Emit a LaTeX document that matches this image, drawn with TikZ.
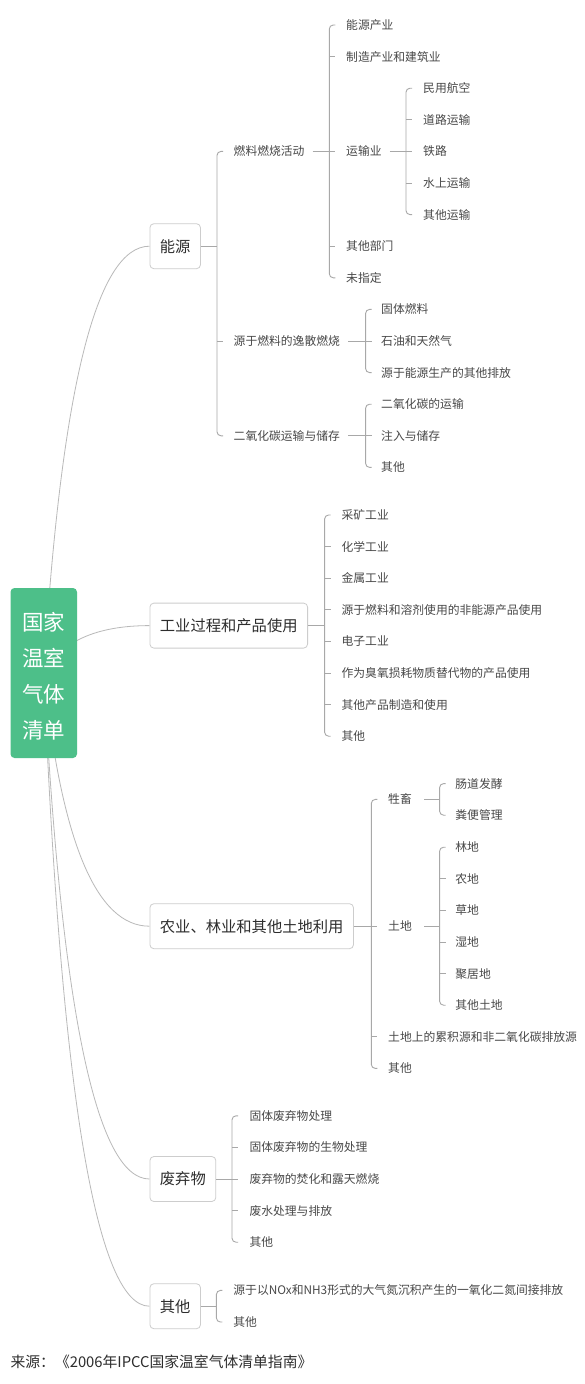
\documentclass[tikz,border=0pt]{standalone}
\usepackage{fontspec}
\setmainfont{Noto Sans CJK SC}
\usetikzlibrary{backgrounds,calc}
\definecolor{rootg}{RGB}{77,191,137}
\definecolor{boxc}{RGB}{205,205,205}
\definecolor{linec}{RGB}{168,168,168}
\definecolor{curvec}{RGB}{185,185,185}
\definecolor{leafc}{RGB}{72,72,72}
\definecolor{mainc}{RGB}{45,45,45}
\tikzset{
  leaf/.style={anchor=west, inner sep=0pt, text height=10.3pt, text depth=1.4pt,
    font=\fontsize{11.8}{14}\selectfont, text=leafc},
  mainbox/.style={draw=boxc, fill=white, rounded corners=4pt, anchor=west,
    inner xsep=10pt, inner ysep=0pt, minimum height=45pt, text height=13.5pt,
    text depth=1.8pt, font=\fontsize{15.3}{18}\selectfont, text=mainc, line width=0.8pt},
  rootbox/.style={fill=rootg, draw=none, rounded corners=4pt, minimum width=66.5pt,
    minimum height=170pt, inner sep=0pt},
  roottext/.style={inner sep=0pt, align=center, text=white,
    font=\fontsize{21.5}{36}\selectfont},
  br/.style={draw=linec, line width=0.9pt, rounded corners=4pt},
  curve/.style={draw=curvec, line width=0.8pt},
}
\begin{document}
\begin{tikzpicture}[x=1pt,y=-1pt]
\useasboundingbox (0,0) rectangle (585,1384);

% root
\node[rootbox] (root) at (43.75,673) {};
\node[roottext, yshift=-3.5pt] (roottxt) at (root.center) {国家\\温室\\气体\\清单};

% ---------- Energy ----------
\node[mainbox] (E) at (149.5,246.2) {能源};
\coordinate (bE) at (217,0);
\node[leaf] (e1) at (233.5,151.4) {燃料燃烧活动};
\node[leaf] (e2) at (233.5,341) {源于燃料的逸散燃烧};
\node[leaf] (e3) at (233.5,435.8) {二氧化碳运输与储存};
\coordinate (b1) at (329.3,0);
\node[leaf] (e11) at (346,25) {能源产业};
\node[leaf] (e12) at (346,56.6) {制造产业和建筑业};
\node[leaf] (e13) at (346,151.4) {运输业};
\node[leaf] (e14) at (346,246.2) {其他部门};
\node[leaf] (e15) at (346,277.8) {未指定};
\coordinate (b13) at (406,0);
\node[leaf] (e131) at (423,88.2) {民用航空};
\node[leaf] (e132) at (423,119.8) {道路运输};
\node[leaf] (e133) at (423,151.4) {铁路};
\node[leaf] (e134) at (423,183) {水上运输};
\node[leaf] (e135) at (423,214.6) {其他运输};
\coordinate (b2) at (365.6,0);
\node[leaf] (e21) at (381,309.4) {固体燃料};
\node[leaf] (e22) at (381,341) {石油和天然气};
\node[leaf] (e23) at (381,372.6) {源于能源生产的其他排放};
\node[leaf] (e31) at (381,404.2) {二氧化碳的运输};
\node[leaf] (e32) at (381,435.8) {注入与储存};
\node[leaf] (e33) at (381,467.4) {其他};

% ---------- Industry ----------
\node[mainbox] (I) at (149.5,625.6) {工业过程和产品使用};
\coordinate (bI) at (324.6,0);
\node[leaf] (i1) at (341.4,515) {采矿工业};
\node[leaf] (i2) at (341.4,546.6) {化学工业};
\node[leaf] (i3) at (341.4,578.2) {金属工业};
\node[leaf] (i4) at (341.4,609.8) {源于燃料和溶剂使用的非能源产品使用};
\node[leaf] (i5) at (341.4,641.4) {电子工业};
\node[leaf] (i6) at (341.4,673) {作为臭氧损耗物质替代物的产品使用};
\node[leaf] (i7) at (341.4,704.6) {其他产品制造和使用};
\node[leaf] (i8) at (341.4,736.2) {其他};

% ---------- Agriculture ----------
\node[mainbox] (A) at (149.5,926.2) {农业、林业和其他土地利用};
\coordinate (bA) at (371.3,0);
\node[leaf] (a1) at (388,799.4) {牲畜};
\node[leaf] (a2) at (388,926.2) {土地};
\node[leaf] (a3) at (388,1036.8) {土地上的累积源和非二氧化碳排放源};
\node[leaf] (a4) at (388,1068.4) {其他};
\coordinate (bA1) at (439.6,0);
\node[leaf] (a11) at (455.2,783.6) {肠道发酵};
\node[leaf] (a12) at (455.2,815.2) {粪便管理};
\node[leaf] (a21) at (455.2,847.2) {林地};
\node[leaf] (a22) at (455.2,878.8) {农地};
\node[leaf] (a23) at (455.2,910.4) {草地};
\node[leaf] (a24) at (455.2,942) {湿地};
\node[leaf] (a25) at (455.2,973.6) {聚居地};
\node[leaf] (a26) at (455.2,1005.2) {其他土地};

% ---------- Waste ----------
\node[mainbox] (W) at (149.5,1179) {废弃物};
\coordinate (bW) at (232,0);
\node[leaf] (w1) at (249.3,1115.8) {固体废弃物处理};
\node[leaf] (w2) at (249.3,1147.4) {固体废弃物的生物处理};
\node[leaf] (w3) at (249.3,1179) {废弃物的焚化和露天燃烧};
\node[leaf] (w4) at (249.3,1210.6) {废水处理与排放};
\node[leaf] (w5) at (249.3,1242.2) {其他};

% ---------- Other ----------
\node[mainbox] (O) at (149.5,1306.2) {其他};
\coordinate (bO) at (216.4,0);
\node[leaf] (o1) at (233.2,1290.4) {源于以NOx和NH3形式的大气氮沉积产生的一氧化二氮间接排放};
\node[leaf] (o2) at (233.2,1322) {其他};

% source
\node[anchor=west, inner sep=0pt, text height=13pt, text depth=1.8pt,
  font=\fontsize{14.8}{17}\selectfont, text=mainc] (src) at (10.4,1362)
  {来源：《2006年IPCC国家温室气体清单指南》};

% ---------- brackets ----------
% energy main
\draw[br] (E.east) -- (E.east -| bE);
\draw[br] ($(e1.west -| bE)+(6,0)$) -- (e1.west -| bE) -- (e3.west -| bE) -- ($(e3.west -| bE)+(6,0)$);
\draw[br] (e2.west -| bE) -- ++(6,0);
% fuel combustion
\draw[br] ([xshift=8pt]e1.east) -- (e1.east -| b1);
\draw[br] ($(e11.west -| b1)+(6,0)$) -- (e11.west -| b1) -- (e15.west -| b1) -- ($(e15.west -| b1)+(6,0)$);
\foreach \c in {e12,e13,e14} \draw[br] (\c.west -| b1) -- ++(6,0);
% transport
\draw[br] ([xshift=8pt]e13.east) -- (e13.east -| b13);
\draw[br] ($(e131.west -| b13)+(6,0)$) -- (e131.west -| b13) -- (e135.west -| b13) -- ($(e135.west -| b13)+(6,0)$);
\foreach \c in {e132,e133,e134} \draw[br] (\c.west -| b13) -- ++(6,0);
% fugitive
\draw[br] ([xshift=8pt]e2.east) -- (e2.east -| b2);
\draw[br] ($(e21.west -| b2)+(6,0)$) -- (e21.west -| b2) -- (e23.west -| b2) -- ($(e23.west -| b2)+(6,0)$);
\draw[br] (e22.west -| b2) -- ++(6,0);
% CO2 transport
\draw[br] ([xshift=8pt]e3.east) -- (e3.east -| b2);
\draw[br] ($(e31.west -| b2)+(6,0)$) -- (e31.west -| b2) -- (e33.west -| b2) -- ($(e33.west -| b2)+(6,0)$);
\draw[br] (e32.west -| b2) -- ++(6,0);
% industry
\draw[br] (I.east) -- (I.east -| bI);
\draw[br] ($(i1.west -| bI)+(6,0)$) -- (i1.west -| bI) -- (i8.west -| bI) -- ($(i8.west -| bI)+(6,0)$);
\foreach \c in {i2,i3,i4,i5,i6,i7} \draw[br] (\c.west -| bI) -- ++(6,0);
% agriculture
\draw[br] (A.east) -- (A.east -| bA);
\draw[br] ($(a1.west -| bA)+(6,0)$) -- (a1.west -| bA) -- (a4.west -| bA) -- ($(a4.west -| bA)+(6,0)$);
\foreach \c in {a2,a3} \draw[br] (\c.west -| bA) -- ++(6,0);
\draw[br] ([xshift=12pt]a1.east) -- (a1.east -| bA1);
\draw[br] ($(a11.west -| bA1)+(6,0)$) -- (a11.west -| bA1) -- (a12.west -| bA1) -- ($(a12.west -| bA1)+(6,0)$);
\draw[br] ([xshift=12pt]a2.east) -- (a2.east -| bA1);
\draw[br] ($(a21.west -| bA1)+(6,0)$) -- (a21.west -| bA1) -- (a26.west -| bA1) -- ($(a26.west -| bA1)+(6,0)$);
\foreach \c in {a22,a23,a24,a25} \draw[br] (\c.west -| bA1) -- ++(6,0);
% waste
\draw[br] (W.east) -- (W.east -| bW);
\draw[br] ($(w1.west -| bW)+(6,0)$) -- (w1.west -| bW) -- (w5.west -| bW) -- ($(w5.west -| bW)+(6,0)$);
\foreach \c in {w2,w3,w4} \draw[br] (\c.west -| bW) -- ++(6,0);
% other
\draw[br] (O.east) -- (O.east -| bO);
\draw[br] ($(o1.west -| bO)+(6,0)$) -- (o1.west -| bO) -- (o2.west -| bO) -- ($(o2.west -| bO)+(6,0)$);

% ---------- background: white + curves ----------
\begin{scope}[on background layer]
\fill[white] (0,0) rectangle (585,1384);
\draw[curve] (root.center) .. controls +(17.33,-284.5) and +(-53,0) .. (E.west);
\draw[curve] (root.center) .. controls +(17.33,-31.6) and +(-53,0) .. (I.west);
\draw[curve] (root.center) .. controls +(17.33,168.8) and +(-53,0) .. (A.west);
\draw[curve] (root.center) .. controls +(17.33,337.3) and +(-53,0) .. (W.west);
\draw[curve] (root.center) .. controls +(17.33,422.1) and +(-53,0) .. (O.west);
\end{scope}
\end{tikzpicture}
\end{document}
